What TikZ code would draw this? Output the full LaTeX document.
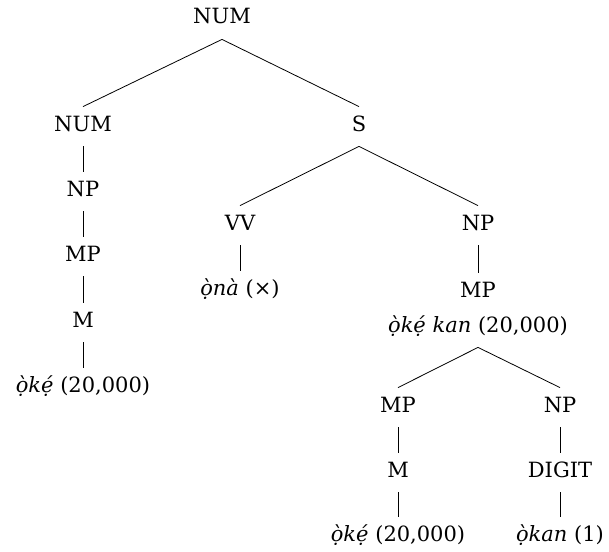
\documentclass[tikz,border=0pt]{standalone}
\usepackage{fontspec}
\setmainfont{DejaVu Serif}
\begin{document}
\begin{tikzpicture}[x=0.5pt,y=-0.5pt,
        every node/.style={font=\fontsize{10.5}{12.5}\selectfont},
        cat/.style={anchor=base,inner sep=2pt,text height=10pt,text depth=5.5pt},
        leaf/.style={anchor=base,inner sep=2pt,text height=10pt}]
    \useasboundingbox (0,0) rectangle (609,551);

    \node [cat] (num)  at (222,24)  {NUM};
    \node [cat] (numL) at (83,131)  {NUM};
    \node [cat] (s)    at (359,131) {S};

    % left branch
    \node [cat] (npL) at (83,196) {NP};
    \node [cat] (mpL) at (83,261) {MP};
    \node [cat] (mL)  at (83,327) {M};
    \node [leaf] (okeL) at (83,392) {\textit{ọ̀kẹ́} (20,000)};

    % right branch
    \node [cat] (vv)  at (240,230) {VV};
    \node [leaf] (ona) at (240,295) {\textit{ọ̀nà} (×)};
    \node [cat] (npR) at (478,230) {NP};
    \node [cat,align=center,text height=27.5pt] (mpR) at (478,332)
        {MP\\[5pt]\textit{ọ̀kẹ́ kan} (20,000)};
    \node [cat] (mpB)   at (398,412) {MP};
    \node [cat] (npB)   at (560,412) {NP};
    \node [cat] (mB)    at (398,477) {M};
    \node [cat] (digit) at (560,477) {DIGIT};
    \node [leaf] (okeB) at (398,541) {\textit{ọ̀kẹ́} (20,000)};
    \node [leaf] (okan) at (560,541) {\textit{ọ̀kan} (1)};

    \draw (num.south) -- (numL.north);
    \draw (num.south) -- (s.north);
    \draw (numL.south) -- (npL.north);
    \draw (npL.south) -- (mpL.north);
    \draw (mpL.south) -- (mL.north);
    \draw (mL.south) -- (okeL.north);
    \draw (s.south) -- (vv.north);
    \draw (s.south) -- (npR.north);
    \draw (vv.south) -- (ona.north);
    \draw (npR.south) -- (mpR.north);
    \draw (mpR.south) -- (mpB.north);
    \draw (mpR.south) -- (npB.north);
    \draw (mpB.south) -- (mB.north);
    \draw (npB.south) -- (digit.north);
    \draw (mB.south) -- (okeB.north);
    \draw (digit.south) -- (okan.north);
\end{tikzpicture}
\end{document}
